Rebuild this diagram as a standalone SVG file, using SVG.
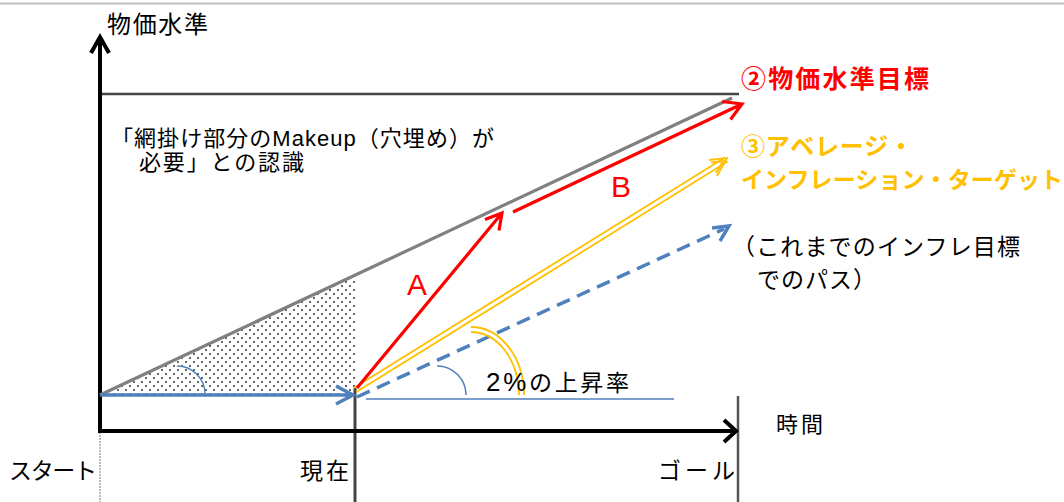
<svg xmlns="http://www.w3.org/2000/svg" width="1064" height="502" viewBox="0 0 1064 502">
<defs>
<pattern id="dots" width="8" height="8" patternUnits="userSpaceOnUse">
<circle cx="2" cy="2" r="1" fill="#333"/>
<circle cx="6" cy="6" r="1" fill="#333"/>
</pattern>
<style>
.t{font-family:"Liberation Sans","Noto Sans CJK JP",sans-serif;}
.k{fill:#000;}
.r{fill:#FF0000;}
.y{fill:#FFC000;font-weight:bold;}
.ax{stroke:#000;stroke-width:4;fill:none;}
.blue{stroke:#4F81BD;fill:none;}
.red{stroke:#FF0000;stroke-width:3.2;fill:none;}
.yl{stroke:#FFC000;stroke-width:1.8;fill:none;}
</style>
</defs>
<rect width="1064" height="502" fill="#fff"/>
<line x1="0" y1="3.5" x2="1064" y2="3.5" stroke="#c0c0c0" stroke-width="2"/>

<g id="area">
<polygon points="100,395 355,395 355,275" fill="url(#dots)"/>
</g>

<g id="axes">
<line x1="100" y1="94" x2="739" y2="94" stroke="#444" stroke-width="2.5"/>
<line x1="100" y1="432" x2="100" y2="502" stroke="#777" stroke-width="1" stroke-dasharray="2,1"/>
<line x1="355" y1="388" x2="355" y2="502" stroke="#444" stroke-width="3"/>
<line x1="738" y1="396" x2="738" y2="502" stroke="#555" stroke-width="2.5"/>
<path class="ax" d="M100,433 V37 M91,53 L100,37 L109,53"/>
<path class="ax" d="M98,431 H735 M724,420 L736,431 L724,442"/>
</g>

<g id="connectors">
<line x1="100" y1="395" x2="732" y2="98" stroke="#808080" stroke-width="3.2"/>
<path class="blue" stroke-width="3.5" d="M100,395 H352 M336,386 L353,395 L336,404"/>
<path class="blue" stroke-width="1.5" d="M177,366 A28,28 0 0 1 205,394"/>
<path class="blue" stroke-width="1.5" d="M437,366 A29,29 0 0 1 466,395"/>
<line x1="366" y1="399" x2="674" y2="399" stroke="#4F81BD" stroke-width="1.5"/>
<line x1="357" y1="397" x2="724" y2="229" stroke="#4F81BD" stroke-width="3.5" stroke-dasharray="14,8"/>
<path class="blue" stroke-width="3.5" d="M712,228 L729,226 L720,241"/>
<g id="yellow">
<path class="yl" d="M353.7,387.9 L725,157.5 M356.3,392.1 L727.6,161.6"/>
<path class="yl" d="M709,160 L727,158 L717,176 M711,162.5 L723,161 L716,173"/>
<path class="yl" d="M471,327 A53,68 0 0 1 524,395"/>
<path class="yl" d="M471,332 A48,63 0 0 1 519,395"/>
</g>
<path class="red" d="M357,388 L502,213 M485,219.5 L502,213 L499,230.5"/>
<path class="red" d="M513,212 L742,104 M722,101.5 L742,104 L730.5,119.5"/>
</g>

<g id="label-y"><text class="t k" x="107" y="33" font-size="24" textLength="101">物価水準</text></g>
<g id="label-x"><text class="t k" x="776" y="432" font-size="22" textLength="47">時間</text></g>
<g id="label-start"><text class="t k" x="9" y="479" font-size="23" textLength="88">スタート</text></g>
<g id="label-now"><text class="t k" x="300" y="479" font-size="23" textLength="49">現在</text></g>
<g id="label-goal"><text class="t k" x="658" y="479" font-size="23" textLength="77">ゴール</text></g>
<g id="label-target"><text class="t r" x="741" y="88" font-size="25" font-weight="bold" textLength="188">②物価水準目標</text></g>
<g id="label-ait">
<text class="t y" x="741" y="155" font-size="24" textLength="172">③アベレージ・</text>
<text class="t y" x="741" y="188" font-size="23" textLength="322">インフレーション・ターゲット</text>
</g>
<g id="label-path">
<text class="t k" x="732" y="255" font-size="23" textLength="288">（これまでのインフレ目標</text>
<text class="t k" x="757" y="288" font-size="23" textLength="119">でのパス）</text>
</g>
<g id="label-makeup">
<text class="t k" x="111" y="146" font-size="22" textLength="383">「網掛け部分のMakeup（穴埋め）が</text>
<text class="t k" x="139" y="170" font-size="22" textLength="165">必要」との認識</text>
</g>
<g id="label-A"><text class="t r" x="407" y="295" font-size="30">A</text></g>
<g id="label-B"><text class="t r" x="611" y="197" font-size="30">B</text></g>
<g id="label-rate"><text class="t k" x="486" y="391" font-size="23" textLength="143"><tspan font-size="26">2%</tspan>の上昇率</text></g>
</svg>
